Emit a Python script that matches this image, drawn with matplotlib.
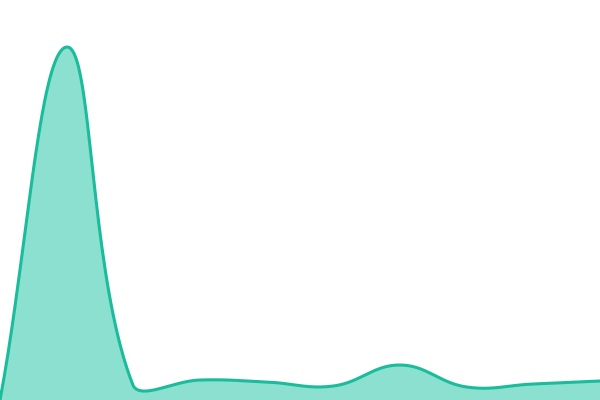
import numpy as np
import matplotlib
matplotlib.use("Agg")
import matplotlib.pyplot as plt

# data (y grows upwards, 0 = bottom edge)
categories = list(range(10))
values = [0, 353, 14, 20, 18, 14, 35, 13, 16, 19]

line_color = "#1abc9c"
fill_color = "#8be0cf"

W, H = 600, 400
y_max = 400
tension = 0.4


def spline_curve(xs, ys, steps=40):
    # tension spline like Chart.js line charts, worked out in pixel space
    px = np.asarray(xs, float) * W / (len(xs) - 1)
    py = H - np.asarray(ys, float) * H / y_max
    n = len(px)
    c_prev = np.zeros((n, 2))
    c_next = np.zeros((n, 2))
    for i in range(n):
        cur = np.array([px[i], py[i]])
        prev = np.array([px[max(i - 1, 0)], py[max(i - 1, 0)]])
        nxt = np.array([px[min(i + 1, n - 1)], py[min(i + 1, n - 1)]])
        d01 = np.hypot(*(cur - prev))
        d12 = np.hypot(*(nxt - cur))
        s01 = d01 / (d01 + d12) if d01 + d12 else 0
        s12 = d12 / (d01 + d12) if d01 + d12 else 0
        c_prev[i] = cur - tension * s01 * (nxt - prev)
        c_next[i] = cur + tension * s12 * (nxt - prev)
    # keep control points inside the chart area
    for c in (c_prev, c_next):
        c[:, 0] = np.clip(c[:, 0], 0, W)
        c[:, 1] = np.clip(c[:, 1], 0, H)
    u = np.linspace(0, 1, steps)[:, None]
    out = []
    for i in range(n - 1):
        p0 = np.array([px[i], py[i]])
        p3 = np.array([px[i + 1], py[i + 1]])
        p1, p2 = c_next[i], c_prev[i + 1]
        b = (1 - u) ** 3 * p0 + 3 * (1 - u) ** 2 * u * p1 + 3 * (1 - u) * u ** 2 * p2 + u ** 3 * p3
        out.append(b if i == 0 else b[1:])
    out = np.vstack(out)
    return out[:, 0] * (len(xs) - 1) / W, (H - out[:, 1]) * y_max / H


cx, cy = spline_curve(categories, values)

fig = plt.figure(figsize=(6, 4), dpi=100)
ax = fig.add_axes([0, 0, 1, 1])
ax.fill_between(cx, 0, cy, color=fill_color, lw=0)
ax.plot(cx, cy, color=line_color, lw=2.2, solid_capstyle="round")
ax.set_xlim(categories[0], categories[-1])
ax.set_ylim(0, y_max)
ax.axis("off")

fig.savefig("out.png", dpi=100)
